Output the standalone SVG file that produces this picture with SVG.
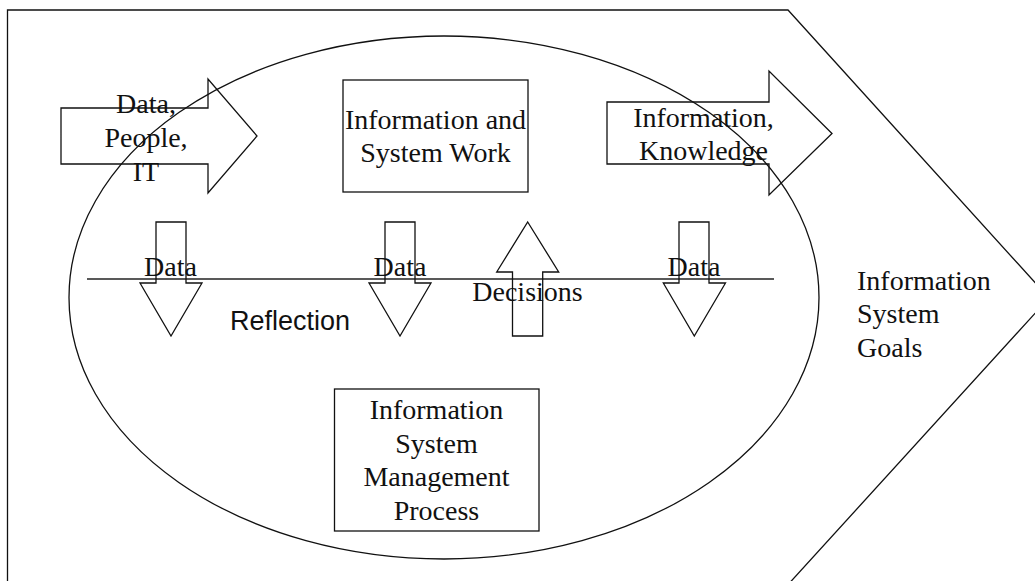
<svg xmlns="http://www.w3.org/2000/svg" width="1035" height="581" viewBox="0 0 1035 581">
  <style>
    .ln { fill: none; stroke: #111; stroke-width: 1.3; }
    .t { font-family: "Liberation Serif", "Times New Roman", serif; font-size: 28px; fill: #111; text-anchor: middle; }
    .ts { font-family: "Liberation Sans", Arial, sans-serif; font-size: 27px; fill: #111; }
  </style>
  <rect width="1035" height="581" fill="#fff"/>

  <g id="goals">
    <polygon class="ln" points="7.5,10 788,10 1049,298 774,600 7.5,600"/>
    <text class="t" style="text-anchor:start" x="857" y="289.5">Information</text>
    <text class="t" style="text-anchor:start" x="857" y="323">System</text>
    <text class="t" style="text-anchor:start" x="857" y="356.5">Goals</text>
  </g>

  <g id="process-ellipse">
    <ellipse class="ln" cx="444" cy="297.5" rx="375" ry="261.5"/>
  </g>

  <g id="work">
    <rect class="ln" x="343" y="80" width="185" height="112"/>
    <text class="t" x="435.5" y="128.5">Information and</text>
    <text class="t" x="435.5" y="162">System Work</text>
  </g>

  <g id="management">
    <rect class="ln" x="334.5" y="389" width="204.5" height="142"/>
    <text class="t" x="436.5" y="419">Information</text>
    <text class="t" x="436.5" y="452.7">System</text>
    <text class="t" x="436.5" y="486.3">Management</text>
    <text class="t" x="436.5" y="520">Process</text>
  </g>

  <g id="reflection">
    <text class="ts" x="230" y="330">Reflection</text>
  </g>

  <g id="connectors">
    <line class="ln" x1="87" y1="279" x2="774" y2="279" style="stroke:#222;stroke-width:1.5"/>
    <g id="input-arrow">
      <polygon class="ln" points="61,108 208,108 208,79 257,136 208,193 208,164 61,164"/>
      <text class="t" x="146" y="113">Data,</text>
      <text class="t" x="146" y="147">People,</text>
      <text class="t" x="146" y="180.5">IT</text>
    </g>
    <g id="output-arrow">
      <polygon class="ln" points="607,102 769,102 769,71 832,133.5 769,195 769,164 607,164"/>
      <text class="t" x="703.5" y="127">Information,</text>
      <text class="t" x="703.5" y="159.5">Knowledge</text>
    </g>
    <g id="data-arrow-1">
      <polygon class="ln" points="156,222 186,222 186,283 202,283 171,336 140,283 156,283"/>
      <text class="t" x="170.5" y="276">Data</text>
    </g>
    <g id="data-arrow-2">
      <polygon class="ln" points="385,222 415,222 415,283 431,283 400,336 369,283 385,283"/>
      <text class="t" x="400" y="276">Data</text>
    </g>
    <g id="data-arrow-3">
      <polygon class="ln" points="679,222 709,222 709,283 725.5,283 694.3,336 663.3,283 679,283"/>
      <text class="t" x="694" y="276">Data</text>
    </g>
    <g id="decisions-arrow">
      <polygon class="ln" points="527.7,222 558.7,272 542.7,272 542.7,336 512.5,336 512.5,272 496.7,272"/>
      <text class="t" x="527.5" y="301">Decisions</text>
    </g>
  </g>
</svg>
